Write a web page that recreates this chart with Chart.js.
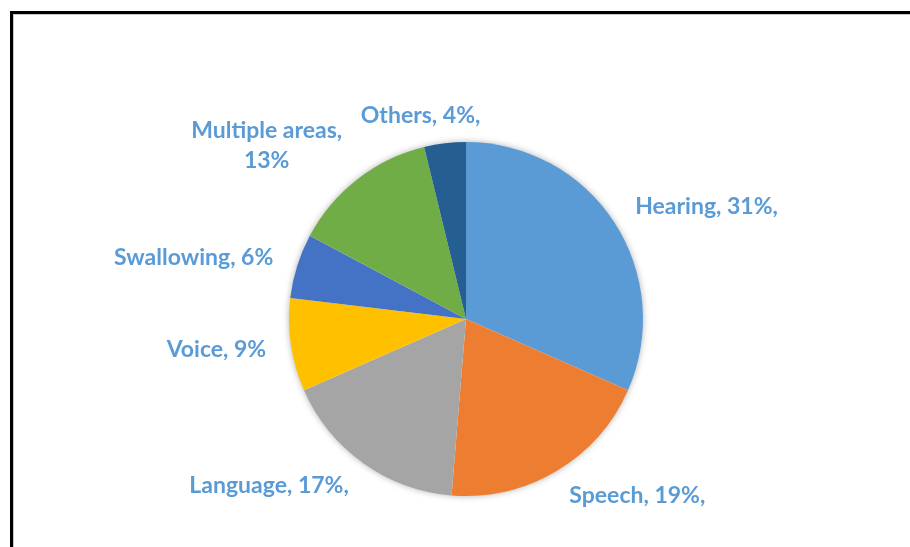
<!DOCTYPE html>
<html>
<head>
<meta charset="utf-8">
<script src="https://cdn.jsdelivr.net/npm/chart.js@4"></script>
<style>
html,body{margin:0;padding:0;background:#fff;overflow:hidden;}
#wrap{position:relative;width:910px;height:547px;}
#frame{position:absolute;left:10px;top:11px;width:1000px;height:1000px;border-top:3px solid #000;border-left:3px solid #000;box-shadow:1px 1px 0 #c8c8c8 inset;}
canvas{position:absolute;left:0;top:0;}
</style>
</head>
<body>
<div id="wrap">
<canvas id="c" width="910" height="547"></canvas>
<div id="frame"></div>
</div>
<script>
const categories = ["Hearing", "Speech", "Language", "Voice", "Swallowing", "Multiple areas", "Others"];
const values = [31.6, 19.7, 17.1, 8.5, 5.9, 13.4, 3.8];
const colors = ["#5B9BD5", "#ED7D31", "#A5A5A5", "#FFC000", "#4472C4", "#70AD47", "#255E91"];
const labelTexts = ["Hearing, 31%,", "Speech, 19%,", "Language, 17%,", "Voice, 9%", "Swallowing, 6%", "Multiple areas,\n13%", "Others, 4%,"];

const labelFont = "bold 23px Lato";
const labelColor = "#5B9BD5";

const labelPlugin = {
  id: 'outLabels',
  afterDatasetsDraw(chart) {
    const ctx = chart.ctx;
    const meta = chart.getDatasetMeta(0);
    ctx.save();
    ctx.font = labelFont;
    ctx.fillStyle = labelColor;
    ctx.textBaseline = 'middle';
    ctx.textAlign = 'center';
    const lh = 30;
    meta.data.forEach((arc, i) => {
      const mid = (arc.startAngle + arc.endAngle) / 2;
      const R = arc.outerRadius + 25;
      const cx = arc.x, cy = arc.y;
      const s = Math.cos(mid), c = Math.sin(mid);
      const ax = cx + R * s, ay = cy + R * c;
      const lines = labelTexts[i].split("\n");
      const w = Math.max(...lines.map(l => ctx.measureText(l).width));
      const h = lines.length * lh - (lh - 22);
      const fx = Math.max(-1, Math.min(1, s * 3));
      const bx = ax + fx * w / 2;
      const by = ay + c * (h / 2 - 8);
      const top = by - h / 2 + 11;
      lines.forEach((l, k) => ctx.fillText(l, bx, top + k * lh));
    });
    ctx.restore();
  }
};

const shadowPlugin = {
  id: 'pieShadow',
  beforeDatasetsDraw(chart) {
    const ctx = chart.ctx;
    ctx.save();
    ctx.shadowColor = 'rgba(0,0,0,0.35)';
    ctx.shadowBlur = 7;
    ctx.shadowOffsetX = 0;
    ctx.shadowOffsetY = 0;
    const a = chart.getDatasetMeta(0).data[0];
    ctx.beginPath();
    ctx.arc(a.x, a.y, a.outerRadius - 0.5, 0, Math.PI * 2);
    ctx.fillStyle = '#fff';
    ctx.fill();
    ctx.restore();
  }
};

new Chart(document.getElementById('c'), {
  type: 'pie',
  data: {
    labels: categories,
    datasets: [{
      data: values,
      backgroundColor: colors,
      borderWidth: 0
    }]
  },
  options: {
    responsive: false,
    animation: false,
    layout: { padding: { left: 289, right: 267, top: 142, bottom: 51 } },
    plugins: { legend: { display: false }, tooltip: { enabled: false } }
  },
  plugins: [shadowPlugin, labelPlugin]
});
</script>
</body>
</html>
